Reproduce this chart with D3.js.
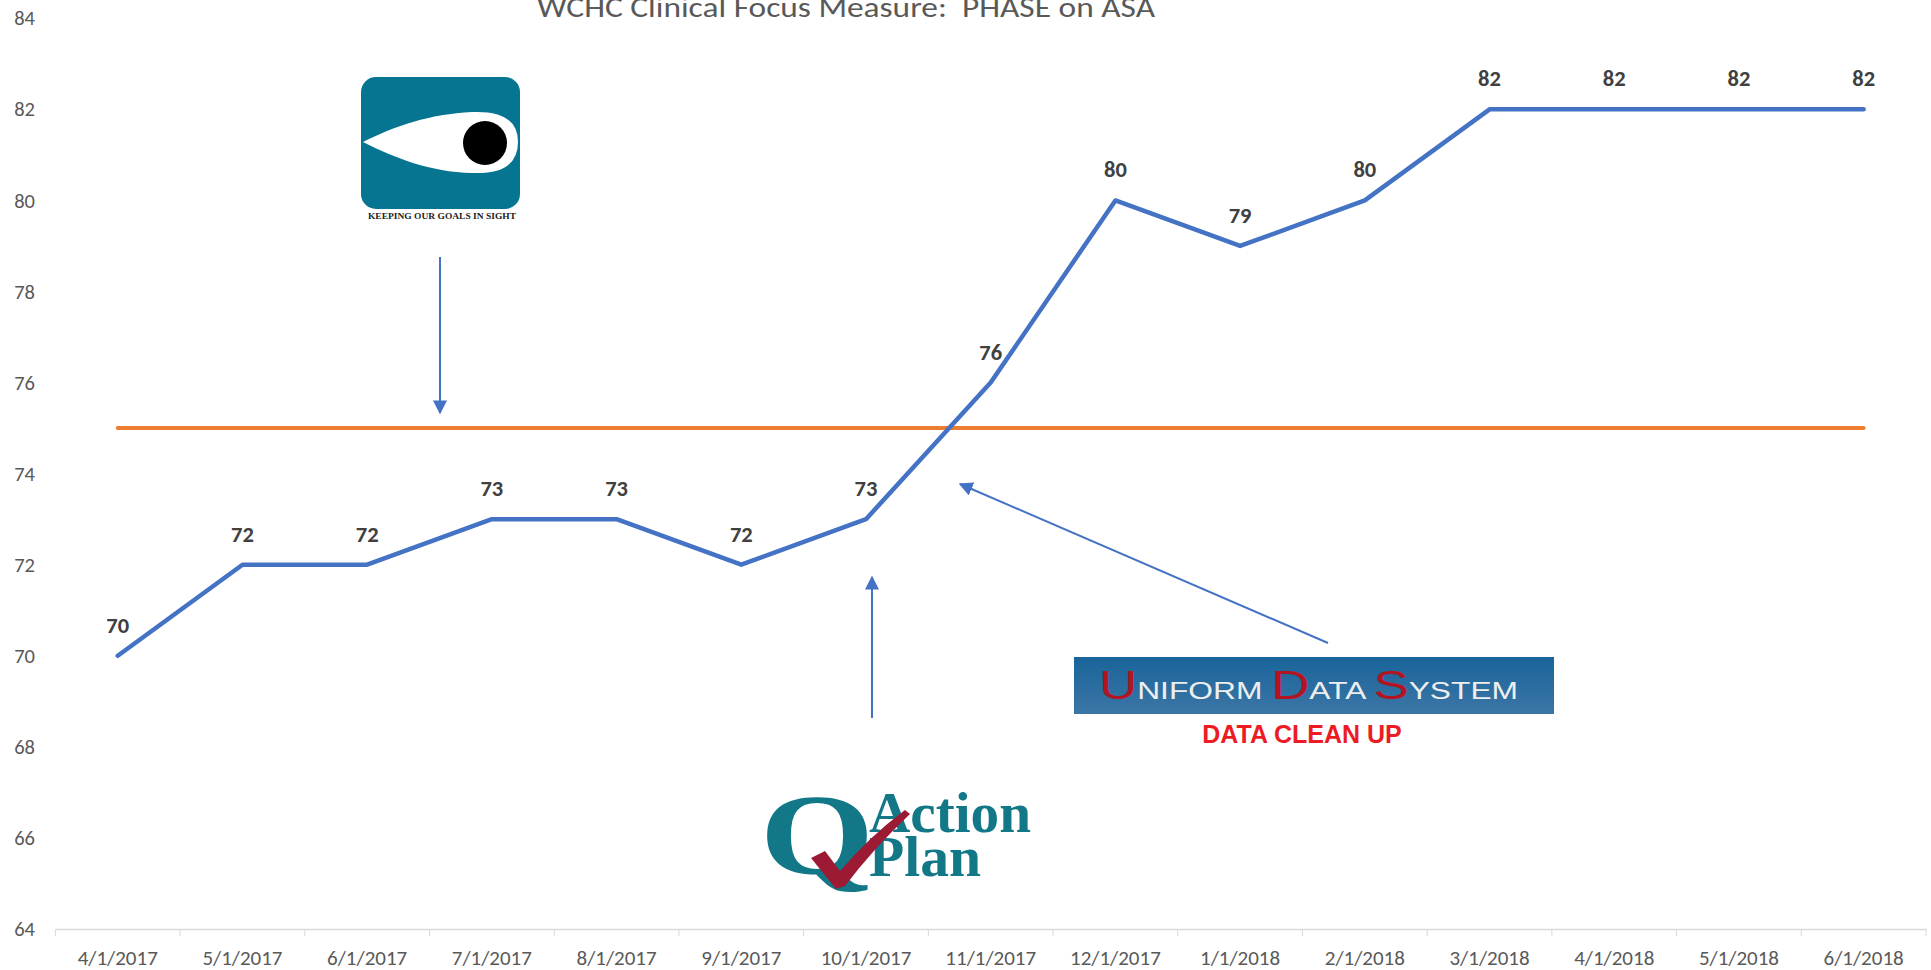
<!DOCTYPE html>
<html>
<head>
<meta charset="utf-8">
<script src="https://cdn.jsdelivr.net/npm/d3@7/dist/d3.min.js"></script>
<style>
    body { margin: 0; background: #ffffff; }
</style>
</head>
<body>
<div id="content_svg"></div>
<script>
// datos del grafico
const meses = ["4/1/2017", "5/1/2017", "6/1/2017", "7/1/2017", "8/1/2017", "9/1/2017", "10/1/2017",
    "11/1/2017", "12/1/2017", "1/1/2018", "2/1/2018", "3/1/2018", "4/1/2018", "5/1/2018", "6/1/2018"];
const valores = [70, 72, 72, 73, 73, 72, 73, 76, 80, 79, 80, 82, 82, 82, 82];
const meta = [75, 75, 75, 75, 75, 75, 75, 75, 75, 75, 75, 75, 75, 75, 75];
const ticksY = [64, 66, 68, 70, 72, 74, 76, 78, 80, 82, 84];
const titulo = "WCHC Clinical Focus Measure:  PHASE on ASA";

var svg;
var x, y;
const LienzoWidth = 1931;
const LienzoHeigh = 970;
const fuente = "Carlito, Calibri, Lato, sans-serif";

function LoadLienzo() {
    svg = d3.select("#content_svg")
        .append("svg")
        .attr("width", LienzoWidth)
        .attr("height", LienzoHeigh);

    x = d3.scaleBand()
        .domain(meses)
        .range([55.4, 1926]);

    y = d3.scaleLinear()
        .domain([64, 84])
        .range([929, 18.3]);

    const defs = svg.append("defs");
    defs.append("marker")
        .attr("id", "flecha")
        .attr("viewBox", "0 0 10 10")
        .attr("refX", 9)
        .attr("refY", 5)
        .attr("markerUnits", "userSpaceOnUse")
        .attr("markerWidth", 14)
        .attr("markerHeight", 14)
        .attr("orient", "auto")
        .append("path")
        .attr("d", "M0,0 L10,5 L0,10 Z")
        .attr("fill", "#4472C4");

    const grad = defs.append("linearGradient")
        .attr("id", "udsGrad")
        .attr("x1", 0).attr("y1", 0).attr("x2", 0).attr("y2", 1);
    grad.append("stop").attr("offset", "0%").attr("stop-color", "#19649a");
    grad.append("stop").attr("offset", "100%").attr("stop-color", "#3c76a6");
}

function LoadEjes() {
    // titulo (cortado arriba como en la imagen)
    svg.append("text")
        .attr("x", 846)
        .attr("y", 16.5)
        .attr("text-anchor", "middle")
        .attr("textLength", 618)
        .attr("lengthAdjust", "spacingAndGlyphs")
        .style("white-space", "pre")
        .attr("font-family", fuente)
        .attr("font-size", 29)
        .attr("fill", "#595959")
        .text(titulo);

    // eje Y: solo etiquetas
    const ejeY = svg.append("g")
        .attr("transform", "translate(35,0)")
        .call(d3.axisLeft(y).tickValues(ticksY).tickSize(0).tickPadding(0));
    ejeY.select(".domain").remove();
    ejeY.selectAll("text")
        .attr("font-family", fuente)
        .attr("font-size", 20.5)
        .attr("fill", "#595959");

    // eje X
    const ejeX = svg.append("g")
        .attr("transform", "translate(0,929)")
        .call(d3.axisBottom(x).tickSize(0).tickPadding(21));
    ejeX.select(".domain")
        .attr("stroke", "#d9d9d9")
        .attr("stroke-width", 1.5);
    ejeX.selectAll("text")
        .attr("font-family", fuente)
        .attr("font-size", 21)
        .attr("fill", "#595959");

    // marcas entre categorias
    const bordes = meses.map(d => x(d)).concat([x(meses[meses.length - 1]) + x.bandwidth()]);
    svg.append("g")
        .selectAll("line")
        .data(bordes)
        .join("line")
        .attr("x1", d => d)
        .attr("x2", d => d)
        .attr("y1", 929)
        .attr("y2", 936)
        .attr("stroke", "#d9d9d9")
        .attr("stroke-width", 1);
}

function LoadLineas() {
    const centro = d => x(d) + x.bandwidth() / 2;

    const linea = d3.line()
        .x((d, i) => centro(meses[i]))
        .y(d => y(d));

    svg.append("path")
        .datum(meta)
        .attr("d", linea)
        .attr("fill", "none")
        .attr("stroke", "#ED7D31")
        .attr("stroke-width", 4)
        .attr("stroke-linecap", "round");

    svg.append("path")
        .datum(valores)
        .attr("d", linea)
        .attr("fill", "none")
        .attr("stroke", "#4472C4")
        .attr("stroke-width", 4.5)
        .attr("stroke-linejoin", "round")
        .attr("stroke-linecap", "round");

    // etiquetas de datos
    svg.append("g")
        .selectAll("text")
        .data(valores)
        .join("text")
        .attr("x", (d, i) => centro(meses[i]))
        .attr("y", d => y(d) - 23)
        .attr("text-anchor", "middle")
        .attr("font-family", fuente)
        .attr("font-weight", "bold")
        .attr("font-size", 22.5)
        .attr("fill", "#404040")
        .text(d => d);
}

function LoadAnotaciones() {
    // logo del ojo
    const ojo = svg.append("g");
    ojo.append("rect")
        .attr("x", 361).attr("y", 77)
        .attr("width", 159).attr("height", 132)
        .attr("rx", 15)
        .attr("fill", "#067591");
    ojo.append("path")
        .attr("d", "M363,142 C395,126 430,114 472,112 Q518,110 518,142 Q518,175 472,173 C430,172 395,158 363,142 Z")
        .attr("fill", "#ffffff");
    ojo.append("circle")
        .attr("cx", 485).attr("cy", 143)
        .attr("r", 22)
        .attr("fill", "#000000");
    ojo.append("text")
        .attr("x", 368).attr("y", 219)
        .attr("textLength", 148)
        .attr("lengthAdjust", "spacingAndGlyphs")
        .attr("font-family", "Liberation Serif, serif")
        .attr("font-weight", "bold")
        .attr("font-size", 8)
        .attr("fill", "#222222")
        .text("KEEPING OUR GOALS IN SIGHT");

    // flechas
    const flechas = [
        [440, 257, 440, 413],
        [872, 718, 872, 577],
        [1328, 643, 960, 484]
    ];
    svg.append("g")
        .selectAll("line")
        .data(flechas)
        .join("line")
        .attr("x1", d => d[0]).attr("y1", d => d[1])
        .attr("x2", d => d[2]).attr("y2", d => d[3])
        .attr("stroke", "#4472C4")
        .attr("stroke-width", 2)
        .attr("marker-end", "url(#flecha)");

    // logo Q Action Plan
    const q = svg.append("g");
    q.append("text")
        .attr("x", 760).attr("y", 873)
        .attr("textLength", 114)
        .attr("lengthAdjust", "spacingAndGlyphs")
        .attr("font-family", "Liberation Serif, serif")
        .attr("font-weight", "bold")
        .attr("font-size", 114)
        .attr("fill", "#127888")
        .text("Q");
    q.append("text")
        .attr("x", 869).attr("y", 832)
        .attr("textLength", 162)
        .attr("lengthAdjust", "spacingAndGlyphs")
        .attr("font-family", "Liberation Serif, serif")
        .attr("font-weight", "bold")
        .attr("font-size", 56)
        .attr("fill", "#127888")
        .text("Action");
    q.append("text")
        .attr("x", 869).attr("y", 876)
        .attr("textLength", 112)
        .attr("lengthAdjust", "spacingAndGlyphs")
        .attr("font-family", "Liberation Serif, serif")
        .attr("font-weight", "bold")
        .attr("font-size", 56)
        .attr("fill", "#127888")
        .text("Plan");
    q.append("path")
        .attr("d", "M811,858 L825,851 L840,871 Q870,836 905,810 L910,814 Q872,850 845,886 L836,889 Z")
        .attr("fill", "#9c1a33");

    // caja UDS
    svg.append("rect")
        .attr("x", 1074).attr("y", 657)
        .attr("width", 480).attr("height", 57)
        .attr("fill", "url(#udsGrad)");
    const uds = svg.append("text")
        .attr("x", 1099).attr("y", 699)
        .attr("textLength", 419)
        .attr("lengthAdjust", "spacingAndGlyphs")
        .style("white-space", "pre")
        .attr("font-family", "Liberation Sans, Arial, sans-serif");
    const partes = [["U", 40, "#b3141f"], ["NIFORM ", 24, "#eeeeee"], ["D", 40, "#b3141f"],
        ["ATA ", 24, "#eeeeee"], ["S", 40, "#b3141f"], ["YSTEM", 24, "#eeeeee"]];
    uds.selectAll("tspan")
        .data(partes)
        .join("tspan")
        .attr("font-size", d => d[1])
        .attr("fill", d => d[2])
        .text(d => d[0]);

    svg.append("text")
        .attr("x", 1302).attr("y", 743)
        .attr("text-anchor", "middle")
        .attr("font-family", "Liberation Sans, Arial, sans-serif")
        .attr("font-weight", "bold")
        .attr("font-size", 25)
        .attr("fill", "#ed1c24")
        .text("DATA CLEAN UP");
}

LoadLienzo();
LoadEjes();
LoadLineas();
LoadAnotaciones();
</script>
</body>
</html>
